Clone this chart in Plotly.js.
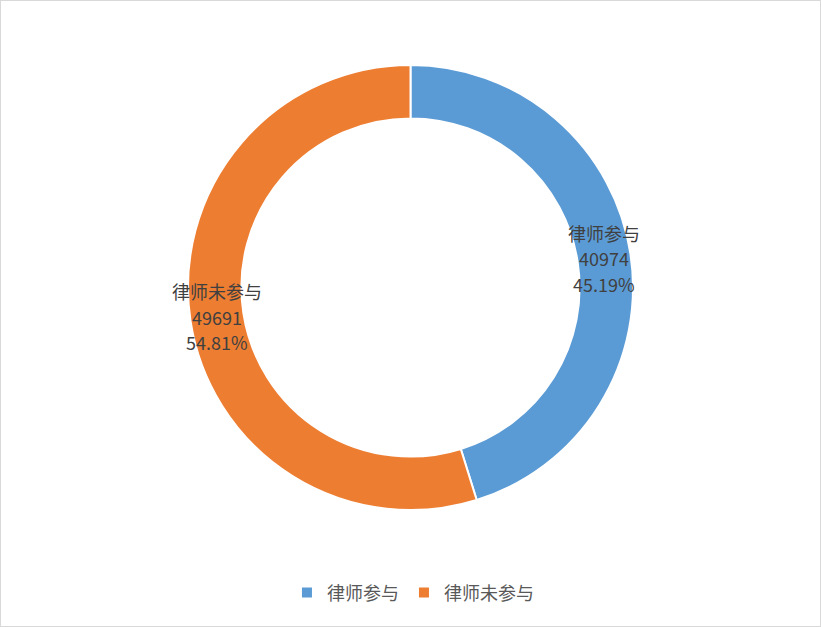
<!DOCTYPE html>
<html>
<head>
<meta charset="utf-8">
<script src="https://cdn.plot.ly/plotly-3.0.1.min.js"></script>
<style>
  body { margin: 0; background: #fff; }
  #wrap { position: relative; width: 821px; height: 627px; }
  #frame { position: absolute; left: 0; top: 0; width: 821px; height: 627px;
           box-sizing: border-box; border: 1px solid #d9d9d9; pointer-events: none; }
</style>
</head>
<body>
<div id="wrap">
  <div id="chart" style="width:821px;height:627px;"></div>
  <div id="frame"></div>
</div>
<script>
const categories = ['律师参与', '律师未参与'];
const counts = [40974, 49691];
const percentText = ['45.19%', '54.81%'];
const colors = ['#5B9BD5', '#ED7D31'];

const W = 821, H = 627;
const margin = { l: 0, r: 0, t: 65, b: 117 };
const hole = 0.76;
const fontFam = '"Noto Sans CJK SC", "Liberation Sans", sans-serif';

// data labels sit horizontally on the middle of the ring, at each slice's mid angle
const plotW = W - margin.l - margin.r, plotH = H - margin.t - margin.b;
const R = Math.min(plotW, plotH) / 2;
const rMid = R * (1 + hole) / 2;
const total = counts.reduce((a, b) => a + b, 0);
const lineGap = 25.5;
let acc = 0;
const annotations = [];
categories.forEach((c, i) => {
  const mid = (acc + counts[i] / 2) / total * 2 * Math.PI;
  acc += counts[i];
  const lines = [c, String(counts[i]), percentText[i]];
  lines.forEach((t, k) => {
    annotations.push({
      xref: 'paper', yref: 'paper',
      x: 0.5 + rMid * Math.sin(mid) / plotW,
      y: 0.5 + rMid * Math.cos(mid) / plotH,
      yshift: (1 - k) * lineGap,
      xanchor: 'center', yanchor: 'middle',
      showarrow: false,
      text: t,
      font: { size: 18, color: '#404040', family: fontFam }
    });
  });
});

const trace = {
  type: 'pie',
  labels: categories,
  values: counts,
  hole: hole,
  sort: false,
  direction: 'clockwise',
  rotation: 0,
  marker: { colors: colors, line: { color: '#ffffff', width: 2 } },
  textinfo: 'none',
  hoverinfo: 'label+value+percent'
};

Plotly.newPlot('chart', [trace], {
  width: W,
  height: H,
  margin: margin,
  paper_bgcolor: '#ffffff',
  font: { family: fontFam, color: '#595959' },
  annotations: annotations,
  showlegend: true,
  legend: {
    orientation: 'h',
    x: 0.503, xanchor: 'center',
    y: -0.186, yanchor: 'middle',
    font: { size: 18, color: '#595959' },
    itemwidth: 30
  }
}, { displayModeBar: false });
</script>
</body>
</html>
